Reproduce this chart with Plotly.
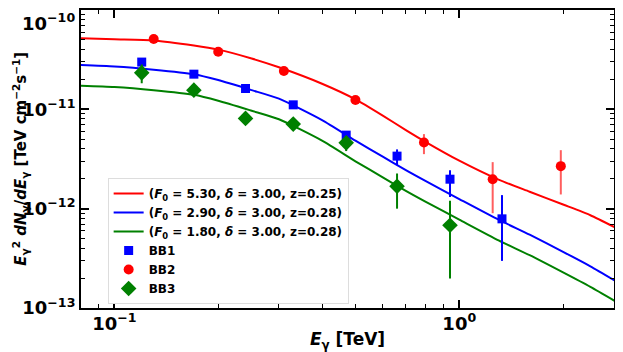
import numpy as np
import plotly.graph_objects as go

# model curves
e_model = [0.08, 0.1, 0.13, 0.17, 0.2, 0.25, 0.3, 0.4, 0.5, 0.6, 0.7, 0.8, 1.0, 1.3, 1.6, 2.0, 2.4, 2.87]
f_red = [5.19e-11, 5.07e-11, 4.94e-11, 4.39e-11, 3.99e-11, 3.25e-11, 2.65e-11, 1.81e-11, 1.26e-11,
         8.65e-12, 6.18e-12, 4.68e-12, 3.04e-12, 1.96e-12, 1.48e-12, 1.10e-12, 8.59e-13, 6.31e-13]
f_blue = [2.79e-11, 2.70e-11, 2.51e-11, 2.26e-11, 1.97e-11, 1.56e-11, 1.28e-11, 7.79e-12, 4.84e-12,
          3.34e-12, 2.44e-12, 1.89e-12, 1.25e-12, 7.74e-13, 5.47e-13, 3.68e-13, 2.63e-13, 1.83e-13]
f_green = [1.73e-11, 1.68e-11, 1.56e-11, 1.40e-11, 1.22e-11, 9.68e-12, 7.95e-12, 4.84e-12, 3.00e-12,
           2.07e-12, 1.51e-12, 1.17e-12, 7.76e-13, 4.80e-13, 3.40e-13, 2.28e-13, 1.63e-13, 1.14e-13]

# BB1
e_bb1 = [0.12, 0.17, 0.24, 0.33, 0.47, 0.66, 0.94, 1.33]
f_bb1 = [2.99e-11, 2.26e-11, 1.62e-11, 1.11e-11, 5.5e-12, 3.38e-12, 1.98e-12, 7.9e-13]
up_bb1 = [0.5e-12, 0.4e-12, 0.3e-12, 0.3e-12, 0.4e-12, 0.57e-12, 0.46e-12, 0.58e-12]
dn_bb1 = [0.5e-12, 0.4e-12, 0.3e-12, 0.3e-12, 0.4e-12, 0.64e-12, 0.67e-12, 4.92e-13]

# BB2
e_bb2 = [0.13, 0.20, 0.31, 0.50, 0.79, 1.25, 1.97]
f_bb2 = [5.10e-11, 3.80e-11, 2.43e-11, 1.24e-11, 4.64e-12, 1.98e-12, 2.68e-12]
up_bb2 = [0.8e-12, 0.6e-12, 0.5e-12, 0.8e-12, 0.99e-12, 0.96e-12, 1.2e-12]
dn_bb2 = [0.8e-12, 0.6e-12, 0.5e-12, 0.8e-12, 1.10e-12, 1.08e-12, 1.29e-12]

# BB3
e_bb3 = [0.12, 0.17, 0.24, 0.33, 0.47, 0.66, 0.94]
f_bb3 = [2.33e-11, 1.56e-11, 8.1e-12, 7.1e-12, 4.6e-12, 1.68e-12, 6.8e-13]
up_bb3 = [0.5e-11, 0.1e-11, 0.3e-12, 0.3e-12, 0.8e-12, 0.58e-12, 0.52e-12]
dn_bb3 = [0.5e-11, 0.1e-11, 0.3e-12, 0.3e-12, 0.8e-12, 0.68e-12, 4.82e-13]

lbl = "<b>(<i>F</i><sub>0</sub> = {:.2f}, <i>δ</i> = 3.00, z={:.2f})</b>"
ylabel = "<b><i>E</i><sub>γ</sub><sup>2</sup> <i>dN</i><sub>γ</sub>/<i>dE</i><sub>γ</sub> [TeV cm<sup>−2</sup>s<sup>−1</sup>]</b>"

fig = go.Figure()
for f, c, F0, z in [(f_red, "red", 5.30, 0.25), (f_blue, "blue", 2.90, 0.28), (f_green, "green", 1.80, 0.28)]:
    fig.add_trace(go.Scatter(x=e_model, y=f, mode="lines", line=dict(color=c, width=2, shape="spline", smoothing=0.6),
                             name=lbl.format(F0, z)))

for e, f, up, dn, c, ec, sym, sz, nm in [
        (e_bb1, f_bb1, up_bb1, dn_bb1, "blue", "blue", "square", 9, "BB1"),
        (e_bb2, f_bb2, up_bb2, dn_bb2, "red", "rgba(255,40,40,0.75)", "circle", 10, "BB2"),
        (e_bb3, f_bb3, up_bb3, dn_bb3, "green", "green", "diamond", 12, "BB3")]:
    fig.add_trace(go.Scatter(x=e, y=f, mode="markers", name="<b>" + nm + "</b>",
                             marker=dict(color=c, symbol=sym, size=sz, line=dict(width=0)),
                             error_y=dict(type="data", symmetric=False, array=up, arrayminus=dn,
                                          color=ec, thickness=2, width=0)))

xminor = [0.08, 0.09, 0.2, 0.3, 0.4, 0.5, 0.6, 0.7, 0.8, 0.9, 2.0]
yminor = [k * 10.0 ** n for n in (-13, -12, -11) for k in range(2, 10)]

axis_common = dict(type="log", showgrid=False, zeroline=False, showline=True, linecolor="black", linewidth=2,
                   mirror="ticks", ticks="inside", ticklen=8, tickwidth=1.5, tickcolor="black", automargin=False,
                   tickfont=dict(family="DejaVu Sans", size=18, color="black"))

fig.update_xaxes(**axis_common, range=[np.log10(0.08), np.log10(2.81)],
                 tickvals=[0.1, 1.0], ticktext=["<b>10<sup>−1</sup></b>", "<b>10<sup>0</sup></b>"],
                 ticklabelstandoff=-2,
                 minor=dict(tickvals=xminor, ticks="inside", ticklen=4, tickwidth=1, tickcolor="black"),
                 title=dict(text="<b><i>E</i><sub>γ</sub> [TeV]</b>", standoff=1,
                            font=dict(family="DejaVu Sans", size=17, color="black")))
# the top label (10^-10) would be clipped by plotly, so it is added as an annotation below
fig.update_yaxes(**axis_common, range=[-13, -10],
                 tickvals=[1e-13, 1e-12, 1e-11],
                 ticktext=["<b>10<sup>−13</sup></b>", "<b>10<sup>−12</sup></b>", "<b>10<sup>−11</sup></b>"],
                 minor=dict(tickvals=yminor, ticks="inside", ticklen=4, tickwidth=1, tickcolor="black"))

fig.add_annotation(text="<b>10<sup>−10</sup></b>", xref="paper", yref="paper", x=-0.0075, y=1,
                   xanchor="right", yanchor="top", yshift=2, showarrow=False,
                   font=dict(family="DejaVu Sans", size=18, color="black"))
fig.add_annotation(text=ylabel, xref="paper", yref="paper", x=-0.115, y=0.5, textangle=-90,
                   xanchor="center", yanchor="middle", showarrow=False,
                   font=dict(family="DejaVu Sans", size=15, color="black"))

# page has an 8px body margin, so the figure is sized to the visible area
fig.update_layout(width=607, height=344, margin=dict(l=73, r=1, t=2, b=44),
                  plot_bgcolor="white", paper_bgcolor="white",
                  font=dict(family="DejaVu Sans", color="black"),
                  legend=dict(x=0.05, y=0.436, xanchor="left", yanchor="top",
                              bgcolor="white", bordercolor="#dddddd", borderwidth=1,
                              font=dict(family="DejaVu Sans", size=12, color="black"),
                              tracegroupgap=0, itemwidth=30))

fig.write_html("out.html")
